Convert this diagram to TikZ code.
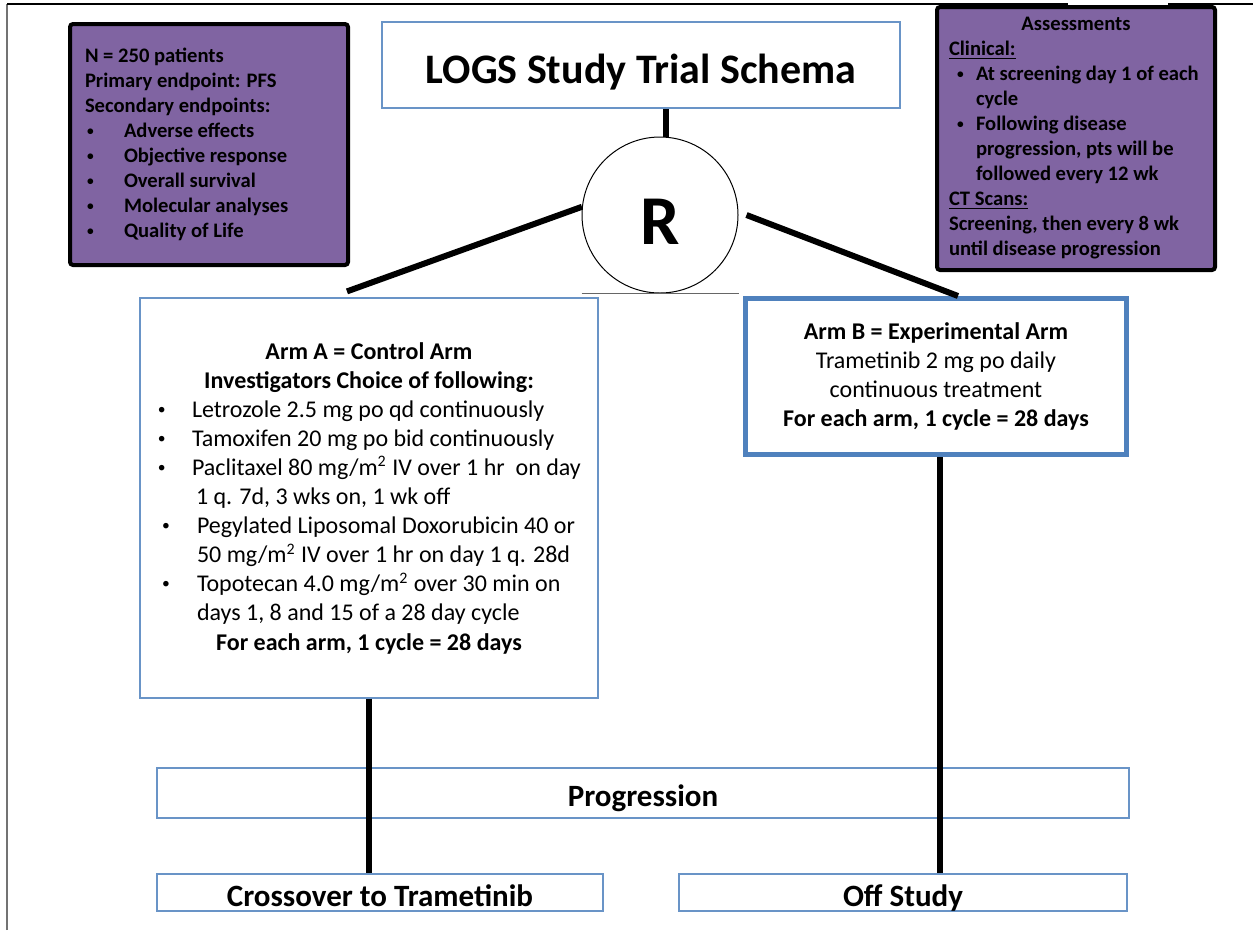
\documentclass[tikz,border=0pt]{standalone}
\usepackage{fontspec}
\usepackage{graphicx}
\setmainfont{Carlito}
\definecolor{schpurple}{HTML}{8064A2}
\definecolor{schblue}{HTML}{4F81BD}
\newcommand{\smbul}{\raisebox{0.12em}{\scalebox{0.65}{\textbullet}}}
\newcommand{\bitem}[3]{\hspace*{#1}\makebox[#2][l]{\smbul}\mbox{#3}\par}
\newcommand{\contline}[2]{\hspace*{#1}\mbox{#2}\par}

\begin{document}
\begin{tikzpicture}[
    x=0.5pt, y=-0.5pt,
    purplebox/.style={
        rectangle,
        draw=black,
        line width=2pt,
        rounded corners=1.5pt,
        fill=schpurple,
        inner sep=0pt,
        minimum width=139pt,
        font=\fontsize{10.3}{12.5}\selectfont\bfseries
    },
    thinbox/.style={
        rectangle,
        draw=schblue!85,
        line width=0.6pt,
        fill=white,
        inner sep=0pt
    },
    armbbox/.style={
        rectangle,
        draw=schblue,
        line width=2.5pt,
        fill=white,
        inner sep=0pt,
        align=center,
        font=\fontsize{12}{14.5}\selectfont
    },
    bigtext/.style={font=\fontsize{15.5}{18}\selectfont\bfseries, text height=13.5pt, text depth=0pt},
    link/.style={
        line width=3pt,
        black
    }
]
\useasboundingbox (0,0) rectangle (1253,938);

% Rahmen
\draw[black!55, line width=0.6pt] (7,930) -- (7,4);
\draw[black, line width=0.6pt] (7,4) -- (1068,4) (1168,4) -- (1253,4);

% Kopf
\node[purplebox, minimum height=120.5pt] (info) at (209,144.5) {\parbox{139pt}{%
\contline{7.5pt}{N = 250 patients}
\contline{7.5pt}{Primary endpoint: PFS}
\contline{7.5pt}{Secondary endpoints:}
\bitem{8.5pt}{18.5pt}{Adverse effects}
\bitem{8.5pt}{18.5pt}{Objective response}
\bitem{8.5pt}{18.5pt}{Overall survival}
\bitem{8.5pt}{18.5pt}{Molecular analyses}
\bitem{8.5pt}{18.5pt}{Quality of Life}}};
\node[thinbox, minimum width=259pt, minimum height=43pt, text height=22pt, text depth=4pt, font=\fontsize{21}{25}\selectfont\bfseries] (title) at (641,65) {LOGS Study Trial Schema};
\node[purplebox, minimum height=131.5pt] (assess) at (1076,138.5) {\parbox{139pt}{%
{\centering Assessments\par}
\contline{6pt}{\underline{Clinical:}}
\bitem{10pt}{9.5pt}{At screening day 1 of each}
\contline{19.5pt}{cycle}
\bitem{10pt}{9.5pt}{Following disease}
\contline{19.5pt}{progression, pts will be}
\contline{19.5pt}{followed every 12 wk}
\contline{6pt}{\underline{CT Scans:}}
\contline{6pt}{Screening, then every 8 wk}
\contline{6pt}{until disease progression}}};
\node[circle, draw, line width=0.5pt, minimum size=78pt, inner sep=0pt, text height=29pt, font=\fontsize{35}{40}\selectfont\bfseries] (rnd) at (660,215) {R};

% Arme
\node[thinbox, minimum width=229pt, minimum height=200pt] (armA) at (369,498) {\parbox{229pt}{\fontsize{12}{14.55}\selectfont
{\centering\bfseries Arm A = Control Arm\\ Investigators Choice of following:\par}
\bitem{9pt}{17pt}{Letrozole 2.5 mg po qd continuously}
\bitem{9pt}{17pt}{Tamoxifen 20 mg po bid continuously}
\bitem{9pt}{17pt}{Paclitaxel 80 mg/m\textsuperscript{2} IV over 1 hr\ \ on day}
\contline{28pt}{1 q. 7d, 3 wks on, 1 wk off}
\bitem{11pt}{17.5pt}{Pegylated Liposomal Doxorubicin 40 or}
\contline{28.5pt}{50 mg/m\textsuperscript{2} IV over 1 hr on day 1 q. 28d}
\bitem{11pt}{17.5pt}{Topotecan 4.0 mg/m\textsuperscript{2} over 30 min on}
\contline{28.5pt}{days 1, 8 and 15 of a 28 day cycle}
{\centering\bfseries For each arm, 1 cycle = 28 days\par}}};
\node[armbbox, minimum width=190.5pt, minimum height=78pt] (armB) at (936,376.5) {\textbf{Arm B = Experimental Arm}\\Trametinib 2 mg po daily\\continuous treatment\\\textbf{For each arm, 1 cycle = 28 days}};

% Ende
\node[thinbox, bigtext, minimum width=486pt, minimum height=25pt] (prog) at (643,793) {Progression};
\node[thinbox, bigtext, minimum width=223pt, minimum height=18.5pt] (cross) at (380,892.5) {Crossover to Trametinib};
\node[thinbox, bigtext, minimum width=224pt, minimum height=18.5pt] (off) at (903,892.5) {Off Study};

% Linien
\draw[link] ([xshift=3pt]rnd.north) -- ([xshift=3pt]rnd.north |- title.south);
\draw[black!60, line width=0.5pt] (rnd.south -| rnd.west) -- (rnd.south -| rnd.east);
\draw[link] (rnd.174) -- ([xshift=-11pt,yshift=3pt]armA.north);
\draw[link] ([xshift=4pt]rnd.east) -- ([xshift=11pt]armB.north);
\draw[link] (armA.south) -- (armA.south |- cross.north);
\draw[link] ([xshift=2pt]armB.south) -- ([xshift=2pt]armB.south |- off.north);

\end{tikzpicture}
\end{document}
